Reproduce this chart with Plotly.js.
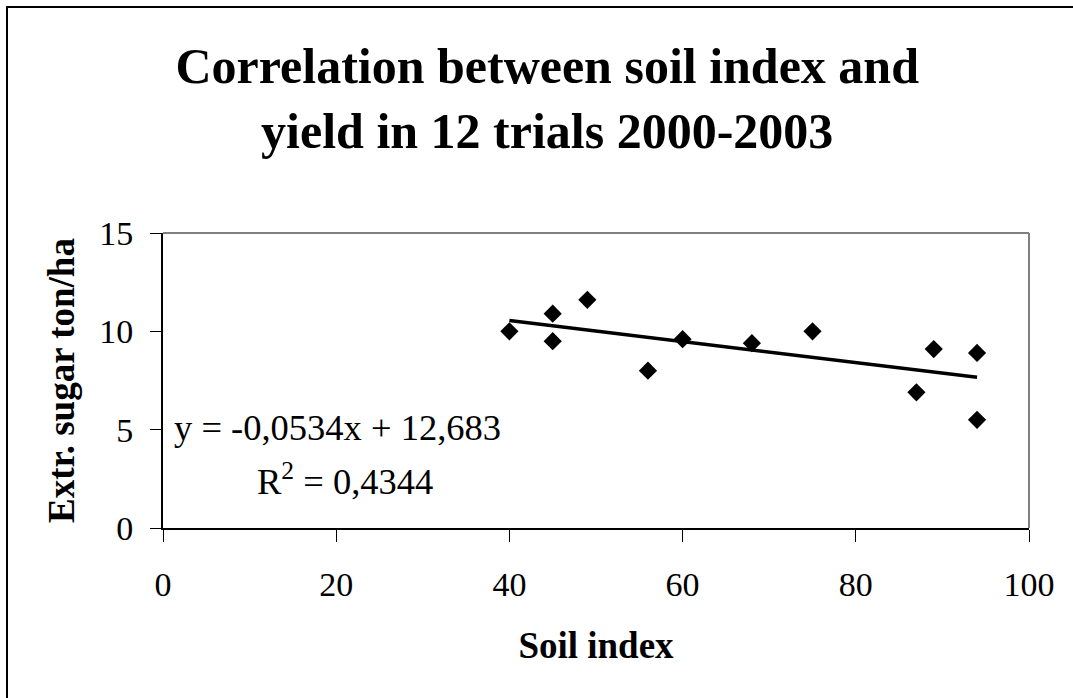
<!DOCTYPE html>
<html>
<head>
<meta charset="utf-8">
<script src="https://cdn.plot.ly/plotly-3.0.1.min.js"></script>
<style>
html,body{margin:0;padding:0;background:#fff;}
#chart{width:1073px;height:698px;}
#frame{position:absolute;left:6px;top:6px;width:3000px;height:3000px;border-left:2px solid #000;border-top:2px solid #000;pointer-events:none;}
</style>
</head>
<body>
<div id="chart"></div>
<div id="frame"></div>
<script>
// Data
const soilIndex = [40, 45, 45, 49, 56, 60, 68, 75, 87, 89, 94, 94];
const sugarYield = [10.0, 10.9, 9.5, 11.6, 8.0, 9.6, 9.4, 10.0, 6.9, 9.1, 8.9, 5.5];
const trendX = [40, 94];
const trendY = [10.55, 7.66];
const xTicks = [0, 20, 40, 60, 80, 100];
const yTicks = [0, 5, 10, 15];
const equationText = 'y = -0,0534x + 12,683';
const r2Text = 'R<sup>2</sup> = 0,4344';

const serif = 'Liberation Serif, Times New Roman, serif';

const traces = [
  {
    x: soilIndex, y: sugarYield, type: 'scatter', mode: 'markers',
    marker: {symbol: 'diamond', size: 14, color: '#000'},
    showlegend: false, hoverinfo: 'x+y'
  },
  {
    x: trendX, y: trendY, type: 'scatter', mode: 'lines',
    line: {color: '#000', width: 3.5},
    showlegend: false, hoverinfo: 'skip'
  }
];

const layout = {
  width: 1073, height: 698,
  margin: {l: 163, r: 44, t: 233, b: 170},
  paper_bgcolor: '#fff', plot_bgcolor: '#fff',
  showlegend: false,
  title: {
    text: '<b>Correlation between soil index and<br>yield in 12 trials 2000-2003</b>',
    font: {family: serif, size: 50, color: '#000'},
    x: 0.51, xanchor: 'center', xref: 'container',
    y: 0.881, yanchor: 'middle', yref: 'container'
  },
  xaxis: {
    range: [0, 100], tickvals: xTicks, ticktext: xTicks.map(String),
    showgrid: false, zeroline: false,
    showline: true, linecolor: '#000', linewidth: 2,
    ticks: 'outside', ticklen: 12, tickwidth: 1, tickcolor: '#000',
    tickfont: {family: serif, size: 34, color: '#000'},
    ticklabelstandoff: 13,
    title: {text: '<b>Soil index</b>', font: {family: serif, size: 37, color: '#000'}, standoff: 30}
  },
  yaxis: {
    range: [0, 15], tickvals: yTicks, ticktext: yTicks.map(String),
    showgrid: false, zeroline: false,
    showline: true, linecolor: '#000', linewidth: 2,
    ticks: 'outside', ticklen: 11, tickwidth: 1, tickcolor: '#000',
    tickfont: {family: serif, size: 34, color: '#000'},
    ticklabelstandoff: 10,
    title: {text: '<b>Extr. sugar ton/ha</b>', font: {family: serif, size: 37, color: '#000'}, standoff: 13}
  },
  shapes: [
    {type: 'line', xref: 'paper', yref: 'paper', x0: 0, x1: 1, y0: 1, y1: 1, line: {color: '#808080', width: 2}},
    {type: 'line', xref: 'paper', yref: 'paper', x0: 1, x1: 1, y0: 0, y1: 1, line: {color: '#808080', width: 2}}
  ],
  annotations: [
    {text: equationText, xref: 'x', yref: 'y', x: 20.2, y: 5.13, showarrow: false,
     xanchor: 'center', yanchor: 'middle', font: {family: serif, size: 36.5, color: '#000'}},
    {text: r2Text, xref: 'x', yref: 'y', x: 21.0, y: 2.49, showarrow: false,
     xanchor: 'center', yanchor: 'middle', font: {family: serif, size: 36.5, color: '#000'}}
  ]
};

Plotly.newPlot('chart', traces, layout, {displayModeBar: false, staticPlot: true});
</script>
</body>
</html>
